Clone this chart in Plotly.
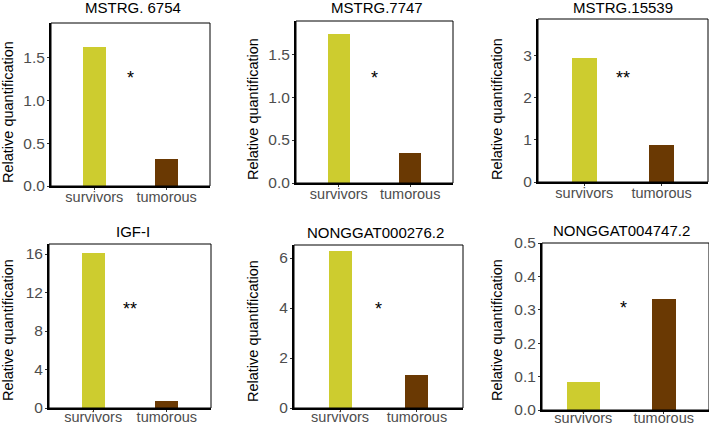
import plotly.graph_objects as go

# ---- data ----
categories = ["survivors", "tumorous"]
genes = ["MSTRG. 6754", "MSTRG.7747", "MSTRG.15539",
         "IGF-I", "NONGGAT000276.2", "NONGGAT004747.2"]
survivors = [1.62, 1.74, 2.95, 16.1, 6.28, 0.084]
tumorous = [0.31, 0.35, 0.89, 0.77, 1.31, 0.332]
significance = ["*", "*", "**", "**", "*", "*"]
sig_y = [1.29, 1.26, 2.55, 10.6, 4.09, 0.313]
y_max = [1.90, 1.886, 3.88, 17.04, 6.52, 0.5]
y_ticks = [[0, 0.5, 1.0, 1.5], [0, 0.5, 1.0, 1.5], [0, 1, 2, 3],
           [0, 4, 8, 12, 16], [0, 2, 4, 6], [0, 0.1, 0.2, 0.3, 0.4, 0.5]]
y_fmt = [".1f", ".1f", "d", "d", "d", ".1f"]

# ---- layout geometry (pixels) ----
W, H = 709, 425
boxes = [(51, 210, 23, 186), (296, 453, 21, 183), (538, 708, 19, 182),
         (49, 211, 244, 408), (294, 463, 245, 408), (542, 709, 243, 410)]
x_ranges = [[-0.6, 1.6]] * 5 + [[-0.514, 1.563]]
bar_widths = [[0.32, 0.32], [0.31, 0.31], [0.32, 0.32],
              [0.31, 0.31], [0.30, 0.30], [0.41, 0.30]]
xlabel_standoff = [-5, -5, -5, -7, -7, -8]
title_pos = [(132.5, 8), (377.5, 8), (623, 8), (133, 231), (375.7, 232.7), (621.3, 230.7)]
ytitle_pos = [(8, 112), (253, 109), (497, 109), (8, 330), (253, 331), (497, 330)]

colors = ["#cdcc2f", "#6a3903"]
FONT = "Liberation Sans, Arial, sans-serif"

fig = go.Figure()
annotations = []
shapes = []
layout = {}

for i in range(6):
    xa = "x" if i == 0 else f"x{i+1}"
    ya = "y" if i == 0 else f"y{i+1}"
    xkey = "xaxis" if i == 0 else f"xaxis{i+1}"
    ykey = "yaxis" if i == 0 else f"yaxis{i+1}"
    l, r, t, b = boxes[i]
    fig.add_trace(go.Bar(
        x=categories, y=[survivors[i], tumorous[i]],
        width=bar_widths[i],
        marker=dict(color=colors, line=dict(width=0)),
        xaxis=xa, yaxis=ya, showlegend=False, hoverinfo="x+y"))
    layout[xkey] = dict(
        domain=[l / W, r / W], anchor=ya, range=x_ranges[i],
        type="category", showline=True, linecolor="black", linewidth=2,
        ticks="outside", ticklen=2, tickcolor="#333",
        ticklabelstandoff=xlabel_standoff[i],
        tickfont=dict(family=FONT, size=14.5, color="#4d4d4d"),
        showgrid=False, zeroline=False, fixedrange=True)
    layout[ykey] = dict(
        domain=[1 - b / H, 1 - t / H], anchor=xa, range=[0, y_max[i]],
        tickvals=y_ticks[i], tickformat=y_fmt[i],
        showline=True, linecolor="black", linewidth=2,
        ticks="outside", ticklen=2, tickcolor="#333", ticklabelstandoff=-1,
        tickfont=dict(family=FONT, size=15.5, color="#4d4d4d"),
        showgrid=False, zeroline=False, fixedrange=True)
    # full thin frame
    shapes.append(dict(type="rect", xref="paper", yref="paper",
                       x0=l / W, x1=r / W, y0=1 - b / H, y1=1 - t / H,
                       line=dict(color="black", width=1), layer="above"))
    # panel title
    tx, ty = title_pos[i]
    annotations.append(dict(text=genes[i], x=tx / W, y=1 - ty / H,
                            xref="paper", yref="paper", showarrow=False,
                            xanchor="center", yanchor="middle",
                            font=dict(family=FONT, size=15, color="black")))
    # y-axis title
    yx, yy = ytitle_pos[i]
    annotations.append(dict(text="Relative quantification", x=yx / W, y=1 - yy / H,
                            xref="paper", yref="paper", showarrow=False,
                            textangle=-90, xanchor="center", yanchor="middle",
                            font=dict(family=FONT, size=14.5, color="black")))
    # significance
    annotations.append(dict(text=significance[i], x=0.5, y=sig_y[i],
                            xref=xa, yref=ya, showarrow=False,
                            xanchor="center", yanchor="middle", yshift=-3,
                            font=dict(family=FONT, size=18, color="black")))

fig.update_layout(
    width=W, height=H,
    margin=dict(l=0, r=0, t=0, b=0, autoexpand=False),
    paper_bgcolor="white", plot_bgcolor="white",
    annotations=annotations, shapes=shapes, bargap=0,
    **layout)

fig.write_html("out.html", config={"displayModeBar": False},
               post_script="document.body.style.margin='0';document.body.style.overflow='hidden';")
